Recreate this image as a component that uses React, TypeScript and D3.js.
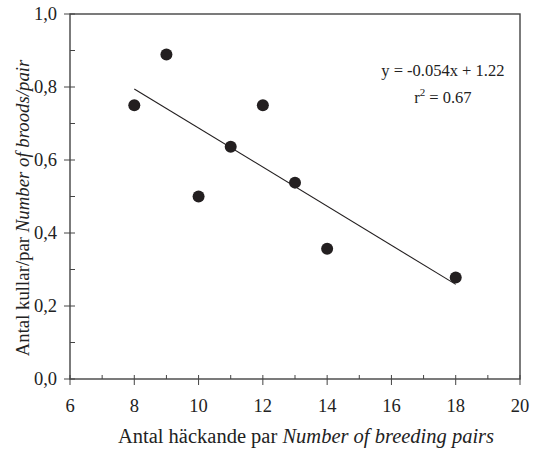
import React, { useEffect, useRef } from 'react';
import * as d3 from 'd3';

// Antal häckande par (x) and antal kullar/par (y)
const pairs = [8, 9, 10, 11, 12, 13, 14, 18];
const broodsPerPair = [0.75, 0.889, 0.5, 0.636, 0.75, 0.538, 0.357, 0.278];

const xTicks = [6, 8, 10, 12, 14, 16, 18, 20];
const xMinorTicks = [7, 9, 11, 13, 15, 17, 19];
const yTicks = [0, 0.2, 0.4, 0.6, 0.8, 1.0];
const yMinorTicks = [0.1, 0.3, 0.5, 0.7, 0.9];

const equationLines = ['y = -0.054x + 1.22'];

export default function App() {
  const svgRef = useRef<SVGSVGElement>(null);

  useEffect(() => {
    const svg = d3.select(svgRef.current);
    svg.selectAll('*').remove(); // Clear previous drawings

    const margin = { top: 14, right: 21, bottom: 70, left: 70 };
    const width = 541 - margin.left - margin.right;
    const height = 449 - margin.top - margin.bottom;
    const font = '"Liberation Serif", "Times New Roman", serif';
    const ink = '#231f20';
    const axisColor = '#444';

    const x = d3.scaleLinear().domain([6, 20]).range([0, width]);
    const y = d3.scaleLinear().domain([0, 1]).range([height, 0]);

    const g = svg
      .append('g')
      .attr('transform', `translate(${margin.left},${margin.top})`);

    // frame
    g.append('rect')
      .attr('x', 0)
      .attr('y', 0)
      .attr('width', width)
      .attr('height', height)
      .attr('fill', 'none')
      .attr('stroke', axisColor)
      .attr('stroke-width', 1.4);

    // y ticks: major cross the axis, minor point inward
    g.selectAll('.ymaj')
      .data(yTicks)
      .enter()
      .append('line')
      .attr('x1', -6)
      .attr('x2', 5)
      .attr('y1', (d) => y(d))
      .attr('y2', (d) => y(d))
      .attr('stroke', axisColor);
    g.selectAll('.ymin')
      .data(yMinorTicks)
      .enter()
      .append('line')
      .attr('x1', 0)
      .attr('x2', 5)
      .attr('y1', (d) => y(d))
      .attr('y2', (d) => y(d))
      .attr('stroke', axisColor);
    g.selectAll('.ylab')
      .data(yTicks)
      .enter()
      .append('text')
      .attr('x', -13)
      .attr('y', (d) => y(d))
      .attr('dy', '0.35em')
      .attr('text-anchor', 'end')
      .style('font-family', font)
      .style('font-size', '18.5px')
      .attr('fill', '#222')
      .text((d) => d3.format('.1f')(d).replace('.', ','));

    // x ticks
    g.selectAll('.xmaj')
      .data(xTicks)
      .enter()
      .append('line')
      .attr('x1', (d) => x(d))
      .attr('x2', (d) => x(d))
      .attr('y1', height - 4)
      .attr('y2', height + 6)
      .attr('stroke', axisColor);
    g.selectAll('.xmin')
      .data(xMinorTicks)
      .enter()
      .append('line')
      .attr('x1', (d) => x(d))
      .attr('x2', (d) => x(d))
      .attr('y1', height - 4)
      .attr('y2', height)
      .attr('stroke', axisColor);
    g.selectAll('.xlab')
      .data(xTicks)
      .enter()
      .append('text')
      .attr('x', (d) => x(d))
      .attr('y', height + 33)
      .attr('text-anchor', 'middle')
      .style('font-family', font)
      .style('font-size', '18.5px')
      .attr('fill', '#222')
      .text((d) => d);

    // least squares trend line over the observed range
    const mx = d3.mean(pairs)!;
    const my = d3.mean(broodsPerPair)!;
    const sxy = d3.sum(pairs, (p, i) => (p - mx) * (broodsPerPair[i] - my));
    const sxx = d3.sum(pairs, (p) => (p - mx) * (p - mx));
    const slope = sxy / sxx;
    const intercept = my - slope * mx;
    const [x0, x1] = d3.extent(pairs) as [number, number];
    const line = d3
      .line<number>()
      .x((d) => x(d))
      .y((d) => y(slope * d + intercept));
    g.append('path')
      .attr('d', line([x0, x1]))
      .attr('fill', 'none')
      .attr('stroke', ink)
      .attr('stroke-width', 1.1);

    // points
    g.selectAll('.pt')
      .data(pairs)
      .enter()
      .append('circle')
      .attr('cx', (d) => x(d))
      .attr('cy', (d, i) => y(broodsPerPair[i]))
      .attr('r', 6)
      .attr('fill', ink);

    // equation
    g.append('text')
      .attr('x', x(17.6))
      .attr('y', 62)
      .attr('text-anchor', 'middle')
      .style('font-family', font)
      .style('font-size', '16.5px')
      .attr('fill', '#222')
      .text(equationLines[0]);
    const r2 = g
      .append('text')
      .attr('x', x(17.6))
      .attr('y', 89)
      .attr('text-anchor', 'middle')
      .style('font-family', font)
      .style('font-size', '16.5px')
      .attr('fill', '#222');
    r2.append('tspan').text('r');
    r2.append('tspan').attr('dy', -7).style('font-size', '11px').text('2');
    r2.append('tspan').attr('dy', 7).text(' = 0.67');

    // axis titles
    const xt = svg
      .append('text')
      .attr('x', 306)
      .attr('y', 443)
      .attr('text-anchor', 'middle')
      .style('font-family', font)
      .style('font-size', '20.5px')
      .attr('fill', '#222');
    xt.append('tspan').text('Antal häckande par ');
    xt.append('tspan').style('font-style', 'italic').text('Number of breeding pairs');

    const yt = svg
      .append('text')
      .attr('transform', 'translate(29,208) rotate(-90)')
      .attr('text-anchor', 'middle')
      .style('font-family', font)
      .style('font-size', '18.8px')
      .attr('fill', '#222');
    yt.append('tspan').text('Antal kullar/par  ');
    yt.append('tspan').style('font-style', 'italic').text('Number of broods/pair');
  }, []);

  return (
    <svg
      ref={svgRef}
      width={541}
      height={449}
      style={{ position: 'absolute', left: 0, top: 0, background: '#fff' }}
    ></svg>
  );
}
